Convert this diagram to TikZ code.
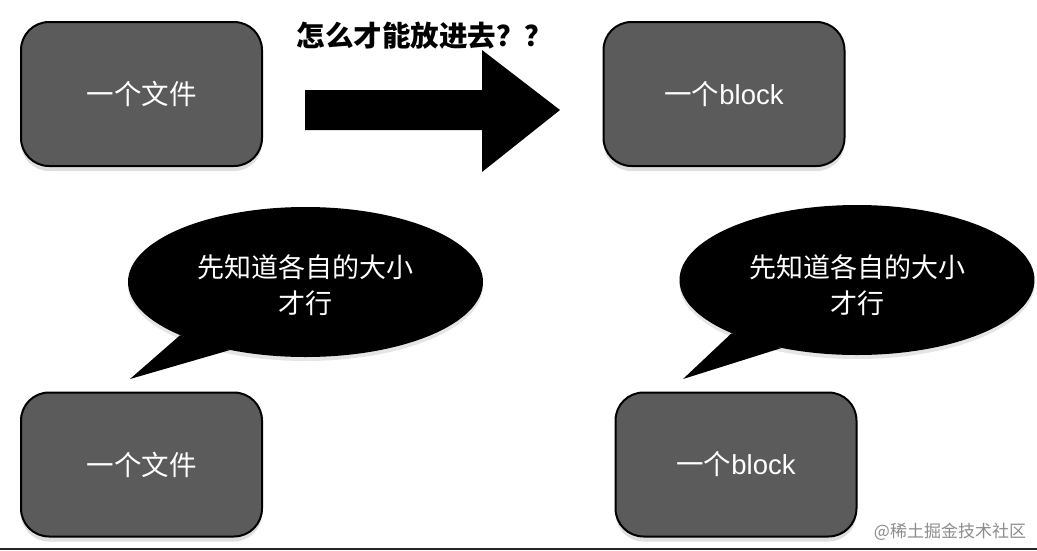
\documentclass[tikz,border=0pt]{standalone}
\usepackage{fontspec}
\newfontfamily\cjk{Noto Sans CJK SC}
\newfontfamily\latin{Liberation Sans}
\usetikzlibrary{shapes.geometric,shadows}
\definecolor{boxgray}{HTML}{5B5B5B}
\begin{document}
\begin{tikzpicture}[x=1pt,y=-1pt,
	filebox/.style={draw=black,line width=2pt,fill=boxgray,rounded corners=28pt,
		minimum width=241pt,minimum height=144pt,text=white,
		font=\cjk\fontsize{27.5}{30}\selectfont,
		drop shadow={shadow xshift=0pt,shadow yshift=-5pt,opacity=0.25}},
	bubble/.style={ellipse,fill=black,minimum width=355pt,minimum height=150pt,inner sep=0pt,
		drop shadow={shadow xshift=0pt,shadow yshift=-4pt,opacity=0.2}},
	saytext/.style={text=white,align=center,font=\cjk\fontsize{27}{36}\selectfont}]
	\useasboundingbox (0,0) rectangle (1037,550);
	\fill[white] (0,0) rectangle (1037,550);
	%%%%%%%% boxes
	\node[filebox] (fileA) at (141.5,94) {一个文件};
	\node[filebox] (blockA) at (724,94) {一个{\latin block}};
	\node[filebox] (fileB) at (141.5,464.5) {一个文件};
	\node[filebox] (blockB) at (736,464.5) {一个{\latin block}};
	%%%%%%%% big arrow
	\fill[black] (305,90)--(482,90)--(482,50)--(560,110)--(482,172)--(482,130)--(305,130)--cycle;
	\node[font=\cjk\bfseries\fontsize{28.5}{30}\selectfont] (ask) at (425,36) {怎么才能放进去？？};
	%%%%%%%% speech bubbles
	\coordinate (tipA) at (130,379);
	\coordinate (tipB) at (683,379);
	\node[bubble] (sayA) at (305.5,282) {};
	\node[bubble] (sayB) at (857,280) {};
	\fill[black] (sayA.203)--(tipA)--(sayA.222)--cycle;
	\fill[black] (sayB.203)--(tipB)--(sayB.222)--cycle;
	\node[saytext] (sizeA) at (305.5,285) {先知道各自的大小\\才行};
	\node[saytext] (sizeB) at (857,285) {先知道各自的大小\\才行};
	%%%%%%%% watermark
	\node[text=black!45,font=\cjk\fontsize{17}{20}\selectfont] (mark) at (950,532) {@稀土掘金技术社区};
	\draw[line width=2pt,black!85] (0,549)--(1037,549);
\end{tikzpicture}
\end{document}
